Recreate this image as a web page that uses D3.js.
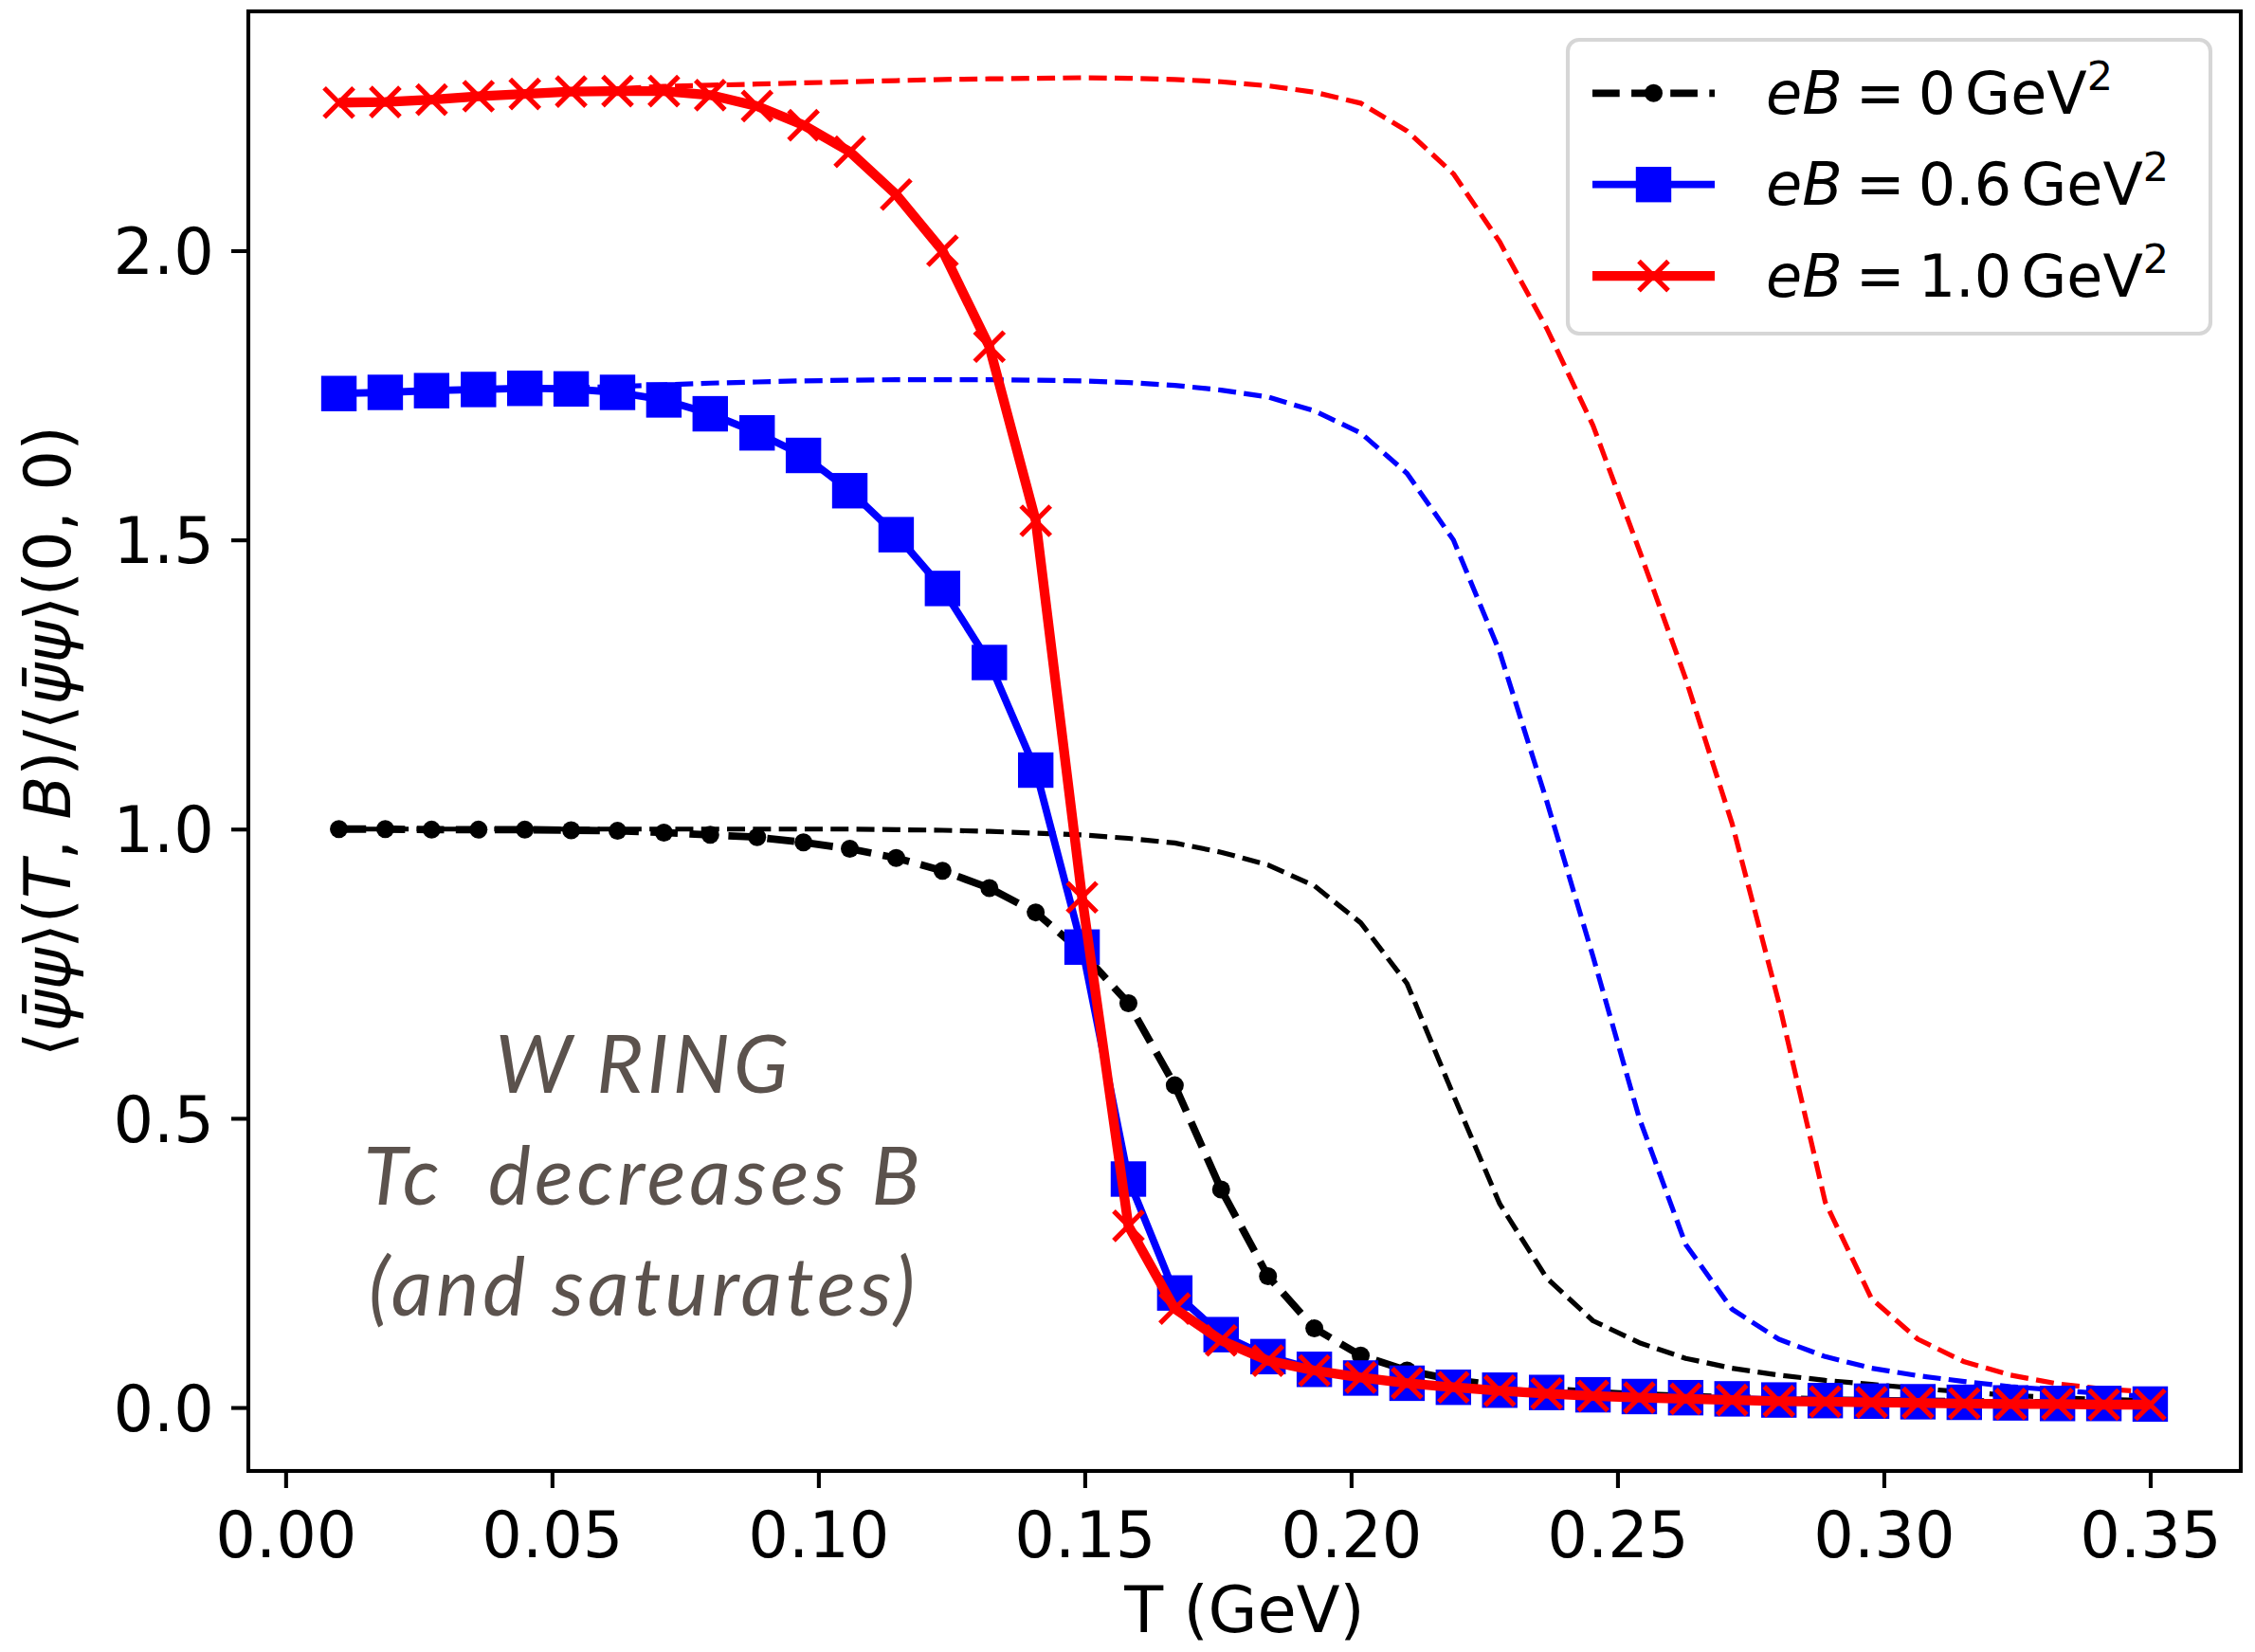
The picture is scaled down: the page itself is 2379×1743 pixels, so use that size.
<!DOCTYPE html>
<html lang="en">
<head>
<meta charset="UTF-8">
<title>Chiral condensate vs T</title>
<script src="https://cdn.jsdelivr.net/npm/d3@7"></script>
<style>
  body { margin: 0; background: #fff; }
  svg { display: block; }
</style>
</head>
<body>
<script>

// temperature grid (GeV)
const temps = [0.0100, 0.0187, 0.0274, 0.0362, 0.0449, 0.0536, 0.0623, 0.0710, 0.0797, 0.0885,
               0.0972, 0.1059, 0.1146, 0.1233, 0.1321, 0.1408, 0.1495, 0.1582, 0.1669, 0.1756,
               0.1844, 0.1931, 0.2018, 0.2105, 0.2192, 0.2279, 0.2367, 0.2454, 0.2541, 0.2628,
               0.2715, 0.2803, 0.2890, 0.2977, 0.3064, 0.3151, 0.3238, 0.3326, 0.3413, 0.3500];

// curves with markers
const eB0 = [1.000, 1.000, 0.999, 0.999, 0.999, 0.998, 0.997, 0.994, 0.990, 0.986,
             0.977, 0.966, 0.950, 0.928, 0.898, 0.856, 0.787, 0.699, 0.557, 0.377,
             0.227, 0.137, 0.090, 0.064, 0.048, 0.038, 0.031, 0.026, 0.022, 0.019,
             0.017, 0.015, 0.013, 0.012, 0.011, 0.010, 0.009, 0.008, 0.008, 0.007];
const eB06 = [1.753, 1.755, 1.758, 1.760, 1.762, 1.761, 1.755, 1.742, 1.718, 1.685,
              1.646, 1.585, 1.509, 1.416, 1.288, 1.102, 0.796, 0.395, 0.198, 0.126,
              0.088, 0.066, 0.051, 0.042, 0.035, 0.030, 0.026, 0.022, 0.019, 0.017,
              0.015, 0.013, 0.012, 0.011, 0.010, 0.009, 0.008, 0.007, 0.007, 0.006];
const eB10 = [2.256, 2.257, 2.261, 2.267, 2.271, 2.275, 2.276, 2.276, 2.269, 2.250,
              2.217, 2.171, 2.097, 2.000, 1.834, 1.533, 0.882, 0.314, 0.171, 0.116,
              0.081, 0.064, 0.052, 0.042, 0.035, 0.029, 0.024, 0.020, 0.017, 0.015,
              0.013, 0.011, 0.010, 0.009, 0.008, 0.007, 0.006, 0.006, 0.005, 0.005];

// thin dashed curves (no markers)
const eB0dash = [1.000, 1.000, 1.000, 1.000, 1.000, 1.000, 1.000, 1.000, 1.000, 1.000,
                 1.000, 1.000, 0.999, 0.998, 0.996, 0.993, 0.990, 0.984, 0.976, 0.960,
                 0.938, 0.902, 0.838, 0.733, 0.540, 0.352, 0.224, 0.150, 0.112, 0.085,
                 0.068, 0.056, 0.047, 0.040, 0.033, 0.027, 0.021, 0.017, 0.014, 0.012];
const eB06dash = [1.753, 1.755, 1.758, 1.760, 1.762, 1.763, 1.765, 1.768, 1.771, 1.773,
                  1.775, 1.776, 1.777, 1.777, 1.777, 1.776, 1.775, 1.772, 1.767, 1.759,
                  1.747, 1.723, 1.685, 1.615, 1.500, 1.306, 1.049, 0.780, 0.500, 0.282,
                  0.170, 0.118, 0.088, 0.068, 0.055, 0.045, 0.036, 0.030, 0.024, 0.019];
const eB10dash = [2.256, 2.258, 2.262, 2.267, 2.272, 2.276, 2.280, 2.284, 2.286, 2.288,
                  2.290, 2.292, 2.294, 2.296, 2.297, 2.298, 2.299, 2.298, 2.296, 2.292,
                  2.285, 2.274, 2.255, 2.207, 2.133, 2.015, 1.866, 1.698, 1.482, 1.260,
                  1.010, 0.700, 0.355, 0.188, 0.118, 0.079, 0.056, 0.041, 0.032, 0.027];

const xTicks = [0.00, 0.05, 0.10, 0.15, 0.20, 0.25, 0.30, 0.35];
const yTicks = [0.0, 0.5, 1.0, 1.5, 2.0];
const legendValues = ["0", "0.6", "1.0"];
const noteLines = ["W RING", "Tc  decreases B", "(and saturates)"];

const W = 2379, H = 1743;
const plotL = 262, plotR = 2364, plotT = 12, plotB = 1552;
const font = "'DejaVu Sans', sans-serif";

const svg = d3.select("body").append("svg")
  .attr("width", W)
  .attr("height", H);
svg.append("rect").attr("width", W).attr("height", H).attr("fill", "#fff");

// scales with 5% margins like matplotlib
const allY = [].concat(eB0, eB06, eB10, eB0dash, eB06dash, eB10dash);
const xExt = d3.extent(temps), yExt = d3.extent(allY);
const xPad = (xExt[1] - xExt[0]) * 0.05, yPad = (yExt[1] - yExt[0]) * 0.05;
const x = d3.scaleLinear().domain([xExt[0] - xPad, xExt[1] + xPad]).range([plotL, plotR]);
const y = d3.scaleLinear().domain([yExt[0] - yPad, yExt[1] + yPad]).range([plotB, plotT]);

const line = d3.line()
  .x((d, i) => x(temps[i]))
  .y(d => y(d));

// thin dashed reference curves
[[eB0dash, "#000000"], [eB06dash, "#0000ff"], [eB10dash, "#ff0000"]].forEach(([vals, c]) => {
  svg.append("path")
    .attr("d", line(vals))
    .attr("fill", "none")
    .attr("stroke", c)
    .attr("stroke-width", 5.2)
    .attr("stroke-dasharray", "19,8.3")
    .attr("stroke-linejoin", "round");
});

const series = [
  {vals: eB0, color: "#000000", lw: 7.8, dash: "28.7,12.4", marker: "circle"},
  {vals: eB06, color: "#0000ff", lw: 7.8, dash: null, marker: "square"},
  {vals: eB10, color: "#ff0000", lw: 10.3, dash: null, marker: "x"}
];

const drawMarker = (g, kind, color, cx, cy) => {
  if (kind === "circle") {
    g.append("circle").attr("cx", cx).attr("cy", cy).attr("r", 9.5).attr("fill", color);
  } else if (kind === "square") {
    g.append("rect").attr("x", cx - 18.7).attr("y", cy - 18.7)
      .attr("width", 37.4).attr("height", 37.4).attr("fill", color);
  } else {
    const h = 15.5;
    g.append("path")
      .attr("d", `M${cx - h},${cy - h}L${cx + h},${cy + h}M${cx - h},${cy + h}L${cx + h},${cy - h}`)
      .attr("stroke", color).attr("stroke-width", 5.2).attr("fill", "none");
  }
};

series.forEach(s => {
  svg.append("path")
    .attr("d", line(s.vals))
    .attr("fill", "none")
    .attr("stroke", s.color)
    .attr("stroke-width", s.lw)
    .attr("stroke-dasharray", s.dash)
    .attr("stroke-linejoin", "round");
  const mg = svg.append("g");
  s.vals.forEach((v, i) => drawMarker(mg, s.marker, s.color, x(temps[i]), y(v)));
});

// frame
svg.append("rect")
  .attr("x", plotL).attr("y", plotT)
  .attr("width", plotR - plotL).attr("height", plotB - plotT)
  .attr("fill", "none").attr("stroke", "#000").attr("stroke-width", 4.1);

// axes (font set after .call, the axis sets its own defaults)
const xAxis = svg.append("g")
  .attr("transform", `translate(0,${plotB})`)
  .call(d3.axisBottom(x).tickValues(xTicks).tickFormat(d3.format(".2f")).tickSize(18))
  .attr("font-family", font).attr("font-size", 67);
xAxis.select(".domain").remove();
xAxis.selectAll("line").attr("stroke-width", 4.1);
xAxis.selectAll("text").attr("dy", null).attr("y", 91).attr("fill", "#000");

const yAxis = svg.append("g")
  .attr("transform", `translate(${plotL},0)`)
  .call(d3.axisLeft(y).tickValues(yTicks).tickFormat(d3.format(".1f")).tickSize(18).tickPadding(18))
  .attr("font-family", font).attr("font-size", 67);
yAxis.select(".domain").remove();
yAxis.selectAll("line").attr("stroke-width", 4.1);
yAxis.selectAll("text").attr("dy", "0.36em").attr("fill", "#000");

// axis labels
svg.append("text")
  .attr("x", (plotL + plotR) / 2).attr("y", 1722)
  .attr("text-anchor", "middle")
  .attr("font-family", font).attr("font-size", 67)
  .text("T (GeV)");

const ylab = svg.append("text")
  .attr("transform", `translate(74,${(plotT + plotB) / 2}) rotate(-90)`)
  .attr("text-anchor", "middle")
  .attr("font-family", font).attr("font-size", 67);
[["⟨", 0], ["ψ̄ψ", 1], ["⟩(", 0], ["T", 1], [", ", 0], ["B", 1], [")/⟨", 0], ["ψ̄ψ", 1], ["⟩(0, 0)", 0]]
  .forEach(([t, it]) => ylab.append("tspan").attr("font-style", it ? "italic" : "normal").text(t));

// annotation
const note = svg.append("g")
  .attr("font-family", "Lato, 'Open Sans', sans-serif")
  .attr("font-style", "italic")
  .attr("font-size", 85)
  .attr("fill", "#5b524d")
  .attr("text-anchor", "middle");
noteLines.forEach((t, i) => {
  note.append("text")
    .attr("x", 679).attr("y", 1153 + i * 117.5)
    .attr("letter-spacing", 4)
    .style("white-space", "pre")
    .attr("xml:space", "preserve")
    .text(t);
});

// legend
const legend = svg.append("g").attr("font-family", font).attr("font-size", 62);
legend.append("rect")
  .attr("x", 1654).attr("y", 42).attr("width", 678).attr("height", 310)
  .attr("rx", 12).attr("ry", 12)
  .attr("fill", "#fff").attr("fill-opacity", 0.8)
  .attr("stroke", "#d6d6d6").attr("stroke-width", 4.1);

series.forEach((s, i) => {
  const cy = 98.3 + i * 96.4;
  legend.append("line")
    .attr("x1", 1680).attr("x2", 1809).attr("y1", cy).attr("y2", cy)
    .attr("stroke", s.color).attr("stroke-width", s.lw)
    .attr("stroke-dasharray", s.dash);
  drawMarker(legend, s.marker, s.color, 1744.5, cy);
  const t = legend.append("text").attr("x", 1863).attr("y", cy + 21.5);
  t.append("tspan").attr("font-style", "italic").text("eB");
  t.append("tspan").attr("dx", 14).text("=");
  t.append("tspan").attr("dx", 14).text(legendValues[i]);
  t.append("tspan").attr("dx", 10).text("GeV");
  t.append("tspan").attr("font-size", 43).attr("dy", -25).text("2");
});

</script>
</body>
</html>
